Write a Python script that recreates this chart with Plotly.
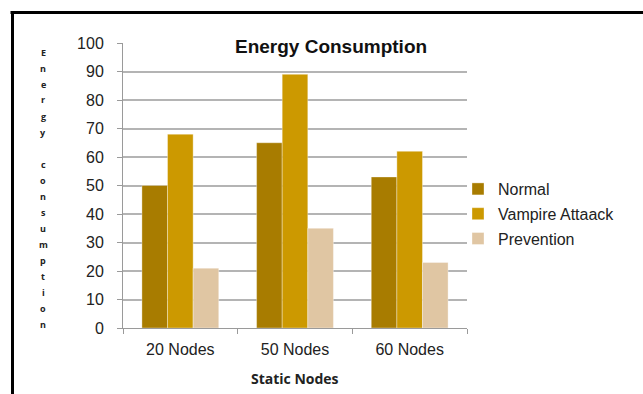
import plotly.graph_objects as go

# Data
categories = ["20 Nodes", "50 Nodes", "60 Nodes"]
normal = [50, 65, 53]
vampire_attack = [68, 89, 62]
prevention = [21, 35, 23]
series_names = ["Normal", "Vampire Attaack", "Prevention"]
y_ticks = [0, 10, 20, 30, 40, 50, 60, 70, 80, 90, 100]

title_text = "Energy Consumption"
x_title = "Static Nodes"
y_title = "Energy consumption"

colors = ["#A87C00", "#CC9900", "#E0C6A3"]

W, H = 643, 394
L, R, T, B = 123, 176, 43, 66
pw, ph = W - L - R, H - T - B


def px_x(x):
    return (x - L) / pw


def px_y(y):
    return (H - B - y) / ph


fig = go.Figure()
for i, (name, vals) in enumerate(zip(series_names, [normal, vampire_attack, prevention])):
    fig.add_trace(go.Bar(
        x=categories, y=vals, name=name, legendgroup=name,
        marker=dict(color=colors[i], line=dict(color="rgba(255,255,255,0.35)", width=1)),
    ))

font_main = "Liberation Sans, Arial, sans-serif"

annotations = [
    dict(text="<b>%s</b>" % title_text, x=px_x(331), y=px_y(46), xref="paper", yref="paper",
         showarrow=False, font=dict(family=font_main, size=19, color="#111"),
         bgcolor="white", xanchor="center", yanchor="middle"),
    dict(text="<b>%s</b>" % x_title, x=px_x(295), y=px_y(378), xref="paper", yref="paper",
         showarrow=False, font=dict(family="Open Sans, sans-serif", size=14, color="#222"),
         xanchor="center", yanchor="middle"),
]
# vertical, letter-by-letter axis title
for k, ch in enumerate(y_title):
    if ch == " ":
        continue
    annotations.append(dict(
        text="<b>%s</b>" % ch, x=px_x(43), y=px_y(52 + 16 * k), xref="paper", yref="paper",
        showarrow=False, font=dict(family="Open Sans, sans-serif", size=9, color="#222"),
        xanchor="center", yanchor="middle"))

shapes = [
    dict(type="line", xref="paper", yref="paper", x0=px_x(10.5), x1=px_x(645), y0=px_y(12.5), y1=px_y(12.5),
         line=dict(color="black", width=3)),
    dict(type="line", xref="paper", yref="paper", x0=px_x(12.5), x1=px_x(12.5), y0=px_y(11), y1=px_y(396),
         line=dict(color="black", width=3)),
]

fig.update_layout(
    width=W, height=H,
    margin=dict(l=L, r=R, t=T, b=B),
    paper_bgcolor="white", plot_bgcolor="white",
    barmode="group", bargap=0.33, bargroupgap=0,
    showlegend=True,
    legend=dict(x=px_x(458), y=px_y(172), xanchor="left", yanchor="top",
                font=dict(family=font_main, size=16, color="#222"),
                tracegroupgap=1, itemwidth=30, bgcolor="rgba(0,0,0,0)"),
    annotations=annotations,
    shapes=shapes,
    xaxis=dict(
        type="category", showline=True, linecolor="#9a9a9a", linewidth=1,
        ticks="outside", tickson="boundaries", ticklen=5, tickcolor="#9a9a9a",
        tickfont=dict(family=font_main, size=16, color="#222"),
        ticklabelstandoff=7, showgrid=False,
    ),
    yaxis=dict(
        range=[0, 100], tickvals=y_ticks, showline=True, linecolor="#9a9a9a", linewidth=1,
        ticks="outside", ticklen=5, tickcolor="#9a9a9a",
        showgrid=True, gridcolor="#b4b4b4", gridwidth=1.5, zeroline=False,
        tickfont=dict(family=font_main, size=16, color="#222"),
        ticklabelstandoff=10,
    ),
)

fig.write_html("out.html")
